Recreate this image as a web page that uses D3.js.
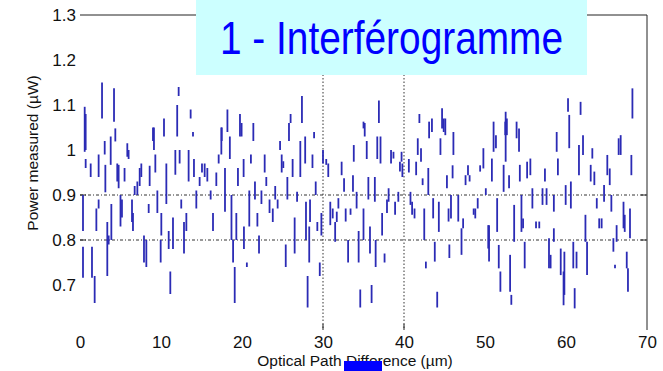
<!DOCTYPE html>
<html>
<head>
<meta charset="utf-8">
<script src="https://cdn.jsdelivr.net/npm/d3@7/dist/d3.min.js"></script>
<style>
  html, body { margin: 0; padding: 0; background: #fff; }
  svg { display: block; font-family: "Liberation Sans", Arial, sans-serif; }
</style>
</head>
<body>
<svg id="chart" width="663" height="371"></svg>
<script>
// Tick values
const xTicks = [0, 10, 20, 30, 40, 50, 60, 70];
const yTicks = [0.7, 0.8, 0.9, 1.0, 1.1, 1.2, 1.3];
const xGrid = [30, 40];
const yGrid = [0.8, 0.9];

// Interferogram samples: [optical path difference (µm), power low (µW), power high (µW)]
const segments = [
  [0.37, 0.82, 0.90], [0.37, 0.716, 0.785], [0.58, 0.996, 1.096], [0.7, 1.0, 1.08], [0.7, 0.96, 0.98],
  [1.32, 0.94, 0.97], [1.48, 0.716, 0.785], [1.81, 0.66, 0.72], [2.02, 0.82, 0.87], [2.3, 0.94, 0.99],
  [2.3, 0.87, 0.89], [2.72, 1.07, 1.15], [3.05, 0.99, 1.02], [3.13, 0.906, 0.967], [3.37, 0.72, 0.84],
  [3.54, 0.79, 0.81], [3.79, 0.967, 1.03], [3.87, 0.80, 0.88], [4.2, 1.063, 1.137], [4.36, 1.019, 1.048],
  [4.6, 0.93, 0.97], [4.77, 0.915, 0.967], [5.0, 0.83, 0.90], [5.18, 0.85, 0.89], [5.5, 0.93, 0.96],
  [5.84, 0.985, 1.015], [6.0, 0.98, 1.0], [6.42, 0.84, 0.89], [6.54, 0.82, 0.86], [6.75, 0.90, 0.92],
  [7.08, 0.90, 0.93], [7.37, 0.92, 0.96], [7.57, 0.94, 0.97], [7.9, 0.75, 0.81], [8.19, 0.74, 0.80],
  [8.48, 0.86, 0.88], [8.6, 0.92, 0.965], [9.01, 1.02, 1.05], [9.13, 1.00, 1.05], [9.3, 0.95, 0.99],
  [9.55, 0.86, 0.91], [9.96, 0.75, 0.80], [10.04, 0.81, 0.86], [10.37, 1.03, 1.07], [10.66, 0.88, 0.97],
  [10.95, 0.78, 0.82], [11.15, 0.68, 0.73], [11.48, 0.78, 0.85], [11.77, 0.945, 1.0], [12.0, 1.03, 1.10],
  [12.18, 1.12, 1.14], [12.3, 0.97, 1.0], [12.5, 0.87, 0.89], [12.84, 0.77, 0.84], [13.13, 0.82, 0.86],
  [13.41, 0.93, 1.0], [13.66, 1.07, 1.09], [13.95, 1.03, 1.04], [14.07, 0.94, 0.98], [14.36, 0.87, 0.91],
  [14.77, 0.92, 0.94], [15.06, 0.95, 0.97], [15.39, 0.94, 0.97], [15.72, 0.93, 0.96], [16.13, 0.89, 0.91],
  [16.42, 0.82, 0.86], [16.83, 0.92, 0.95], [17.12, 0.97, 0.99], [17.45, 0.99, 1.05],
  [17.5, 1.02, 1.05], [17.9, 0.863, 0.96], [18.2, 1.04, 1.09], [18.5, 0.98, 1.03], [18.7, 0.80, 0.90],
  [18.9, 0.75, 0.80], [19.1, 0.66, 0.74], [19.3, 0.80, 0.86], [19.5, 0.92, 0.96], [19.75, 1.03, 1.08],
  [19.95, 1.03, 1.06], [20.2, 0.94, 0.98], [20.24, 0.78, 0.83], [20.6, 0.74, 0.75], [20.9, 0.83, 0.91],
  [21.1, 0.97, 0.99], [21.4, 1.02, 1.06], [21.6, 0.89, 0.93], [21.9, 0.83, 0.86], [22.1, 0.77, 0.81],
  [22.4, 0.88, 0.91], [22.8, 0.95, 0.99], [23.0, 0.92, 0.94], [23.4, 0.86, 0.89], [23.8, 0.84, 0.87],
  [24.1, 0.89, 0.92], [24.4, 0.87, 0.89], [24.7, 1.0, 1.02], [24.9, 0.95, 0.99], [25.1, 0.96, 0.975],
  [25.4, 0.74, 0.79], [25.6, 0.89, 0.94], [25.8, 1.02, 1.06], [26.0, 1.06, 1.08], [26.25, 0.94, 0.98],
  [26.5, 0.77, 0.85], [26.8, 0.885, 0.907], [27.2, 0.94, 1.02], [27.4, 1.06, 1.12], [27.8, 0.97, 1.03],
  [27.9, 0.80, 0.885], [28.1, 0.65, 0.72], [28.3, 0.75, 0.83], [28.4, 0.84, 0.89], [28.7, 0.96, 0.99],
  [28.9, 1.026, 1.04], [29.1, 0.90, 0.93], [29.3, 0.82, 0.84], [29.6, 0.72, 0.75], [29.8, 0.81, 0.86],
  [30.0, 0.97, 1.0], [30.4, 0.967, 0.98], [30.65, 0.94, 0.97], [30.9, 0.833, 0.885], [31.2, 0.848, 0.87],
  [31.5, 0.796, 0.84], [31.7, 0.84, 0.863], [31.9, 0.87, 0.893], [32.3, 0.944, 0.974], [32.6, 0.907, 0.937],
  [32.8, 0.841, 0.87], [33.1, 0.75, 0.80], [33.4, 0.856, 0.87], [33.7, 0.907, 0.944], [33.8, 0.974, 1.011],
  [34.15, 0.87, 0.907], [34.4, 0.75, 0.82], [34.6, 0.65, 0.69], [35.0, 1.048, 1.063],
  [35.0, 0.80, 0.87], [35.15, 1.03, 1.06], [35.4, 0.98, 1.02], [35.6, 0.89, 0.94], [35.8, 0.77, 0.83],
  [36.0, 0.66, 0.70], [36.4, 0.885, 0.94], [36.5, 0.74, 0.80], [36.7, 0.98, 1.03], [36.9, 1.06, 1.11],
  [37.1, 0.97, 1.03], [37.3, 0.81, 0.86], [37.6, 0.75, 0.77], [37.9, 0.86, 0.89], [38.1, 0.885, 0.915],
  [38.4, 0.97, 1.0], [38.7, 0.981, 0.996], [38.9, 0.856, 0.885], [39.3, 0.885, 0.907], [39.5, 0.952, 0.974],
  [39.7, 0.974, 0.996], [39.8, 0.94, 0.97], [40.6, 0.95, 0.98], [40.8, 0.878, 0.907], [41.0, 0.856, 0.885],
  [41.3, 0.848, 0.87], [41.5, 0.944, 0.974], [41.7, 0.989, 1.026], [41.9, 1.06, 1.08], [42.1, 0.974, 1.004],
  [42.3, 0.922, 0.937], [42.5, 0.80, 0.87], [42.7, 0.737, 0.752], [43.0, 0.90, 0.96], [43.1, 1.026, 1.063],
  [43.45, 1.04, 1.07], [43.6, 0.848, 0.893], [43.8, 0.752, 0.796], [44.1, 0.65, 0.685], [44.3, 0.818, 0.885],
  [44.5, 0.989, 1.026], [44.7, 1.048, 1.093], [44.9, 1.04, 1.07], [45.1, 1.033, 1.07], [45.3, 0.915, 0.944],
  [45.5, 0.841, 0.87], [45.6, 0.76, 0.79], [45.8, 0.848, 0.9], [46.0, 0.937, 0.966], [46.1, 0.989, 1.04],
  [46.7, 0.841, 0.9], [47.1, 0.767, 0.826], [47.3, 0.826, 0.848], [47.6, 0.922, 0.944], [47.9, 0.944, 0.966],
  [48.1, 0.93, 0.944], [48.6, 0.856, 0.87], [48.8, 0.848, 0.87], [49.1, 0.87, 0.893], [49.4, 0.952, 0.966],
  [49.8, 0.959, 1.004], [50.1, 0.9, 0.915], [50.4, 0.781, 0.833], [50.5, 0.752, 0.833], [50.85, 0.93, 0.981],
  [51.06, 0.996, 1.063], [51.35, 1.004, 1.033], [51.5, 0.818, 0.893], [51.7, 0.737, 0.789], [51.9, 0.685, 0.73],
  [52.3, 0.907, 0.967], [52.5, 1.033, 1.063],
  [52.55, 0.974, 1.085], [52.7, 1.033, 1.07], [52.97, 0.915, 0.944], [53.1, 0.685, 0.767], [53.25, 0.656, 0.678],
  [53.6, 0.796, 0.878], [53.9, 1.026, 1.063], [54.2, 0.996, 1.048], [54.3, 0.93, 0.967], [54.5, 0.818, 0.9],
  [54.7, 0.826, 0.848], [54.9, 0.737, 0.796], [55.2, 0.937, 0.974], [55.6, 0.944, 0.981], [55.85, 0.87, 0.915],
  [56.3, 0.826, 0.841], [56.7, 0.826, 0.841], [57.1, 0.878, 0.915], [57.4, 0.93, 0.959], [57.6, 0.878, 0.915],
  [57.9, 0.737, 0.804], [58.1, 0.737, 0.767], [58.5, 0.863, 0.9], [58.5, 0.796, 0.826], [58.85, 0.996, 1.04],
  [59.0, 0.944, 0.981], [59.35, 0.722, 0.781], [59.7, 0.655, 0.73], [59.8, 0.678, 0.774], [59.96, 0.878, 0.922],
  [60.25, 1.085, 1.115], [60.4, 1.004, 1.078], [60.6, 0.87, 0.93], [60.9, 0.737, 0.796], [61.07, 0.648, 0.693],
  [61.3, 0.737, 0.774], [61.6, 0.944, 1.011], [61.8, 1.078, 1.107], [62.1, 0.989, 1.033], [62.4, 0.796, 0.856],
  [62.6, 0.722, 0.796], [63.05, 0.93, 0.967], [63.25, 0.981, 1.004], [63.5, 0.922, 0.952], [63.8, 0.87, 0.893],
  [64.1, 0.826, 0.848], [64.4, 0.826, 0.848], [64.7, 0.885, 0.922], [65.1, 0.944, 0.989], [65.4, 0.922, 0.959],
  [65.6, 0.863, 0.9], [65.85, 0.774, 0.804], [66.05, 0.737, 0.745], [66.25, 0.796, 0.833], [66.5, 0.989, 1.026],
  [66.75, 0.989, 1.033], [67.1, 0.826, 0.885], [67.25, 0.818, 0.856], [67.5, 0.737, 0.774], [67.65, 0.685, 0.737],
  [67.9, 0.804, 0.87], [68.07, 0.944, 0.989], [68.2, 1.07, 1.137]
];

const titleText = "1 - Interférogramme";
const xLabel = "Optical Path Difference (µm)";
const yLabel = "Power measured (µW)";

const svg = d3.select("#chart");
const x = d3.scaleLinear().domain([0, 70]).range([80, 647]);
const y = d3.scaleLinear().domain([0.6, 1.3]).range([330, 15]);
const fmt = d => (d === 1 ? "1" : d3.format(".1f")(d));

// Dotted grid lines
const gridColor = "#333";
svg.append("g").selectAll("line").data(xGrid).join("line")
  .attr("x1", d => x(d)).attr("x2", d => x(d))
  .attr("y1", y(1.3)).attr("y2", y(0.6))
  .attr("stroke", gridColor).attr("stroke-width", 1).attr("stroke-dasharray", "1.5,2");
svg.append("g").selectAll("line").data(yGrid).join("line")
  .attr("x1", x(0)).attr("x2", x(70))
  .attr("y1", d => y(d)).attr("y2", d => y(d))
  .attr("stroke", gridColor).attr("stroke-width", 1).attr("stroke-dasharray", "3,2,1,2");

// Short solid ticks
svg.append("g").selectAll("line").data(yGrid).join("line")
  .attr("x1", x(0)).attr("x2", x(0) + 6)
  .attr("y1", d => y(d)).attr("y2", d => y(d))
  .attr("stroke", "#222");
svg.append("g").selectAll("line").data(yGrid).join("line")
  .attr("x1", x(70) - 6).attr("x2", x(70))
  .attr("y1", d => y(d)).attr("y2", d => y(d))
  .attr("stroke", "#222");
svg.append("g").selectAll("line").data(xGrid).join("line")
  .attr("x1", d => x(d)).attr("x2", d => x(d))
  .attr("y1", y(0.6) - 6).attr("y2", y(0.6))
  .attr("stroke", "#222");

// Frame: top and right edges
svg.append("line").attr("x1", x(0)).attr("x2", x(70)).attr("y1", y(1.3)).attr("y2", y(1.3))
  .attr("stroke", "#222").attr("stroke-width", 1);
svg.append("line").attr("x1", x(70)).attr("x2", x(70)).attr("y1", y(1.3)).attr("y2", y(0.6))
  .attr("stroke", "#222").attr("stroke-width", 1);

// Interferogram segments
svg.append("g").selectAll("line").data(segments).join("line")
  .attr("x1", d => x(d[0])).attr("x2", d => x(d[0]))
  .attr("y1", d => y(d[1])).attr("y2", d => y(d[2]))
  .attr("stroke", "#2b2bb5").attr("stroke-width", 1.8);

// Axes (labels only)
const yAxis = svg.append("g").attr("transform", `translate(${x(0)},0)`)
  .call(d3.axisLeft(y).tickValues(yTicks).tickFormat(fmt).tickSize(0).tickPadding(4));
const xAxis = svg.append("g").attr("transform", `translate(0,${y(0.6)})`)
  .call(d3.axisBottom(x).tickValues(xTicks).tickFormat(d3.format("d")).tickSize(0).tickPadding(6));
[yAxis, xAxis].forEach(a => {
  a.select(".domain").remove();
  a.selectAll("text").attr("font-size", 17).attr("fill", "#111")
    .attr("font-family", "'Liberation Sans', Arial, sans-serif");
});

// Axis titles
svg.append("text")
  .attr("x", 355).attr("y", 366)
  .attr("text-anchor", "middle").attr("font-size", 15.5).attr("fill", "#111")
  .text(xLabel);
svg.append("text")
  .attr("transform", "translate(38,153) rotate(-90)")
  .attr("text-anchor", "middle").attr("font-size", 15.5).attr("fill", "#111")
  .text(yLabel);

// Blue marker block under the x title
svg.append("rect").attr("x", 344).attr("y", 361).attr("width", 38).attr("height", 10).attr("fill", "#0000ff");

// Title banner
svg.append("rect").attr("x", 196).attr("y", 0).attr("width", 391).attr("height", 75).attr("fill", "#ccffff");
svg.append("text")
  .attr("x", 220).attr("y", 54)
  .attr("font-size", 46).attr("fill", "#0000ff")
  .attr("textLength", 343).attr("lengthAdjust", "spacingAndGlyphs")
  .text(titleText);
</script>
</body>
</html>
